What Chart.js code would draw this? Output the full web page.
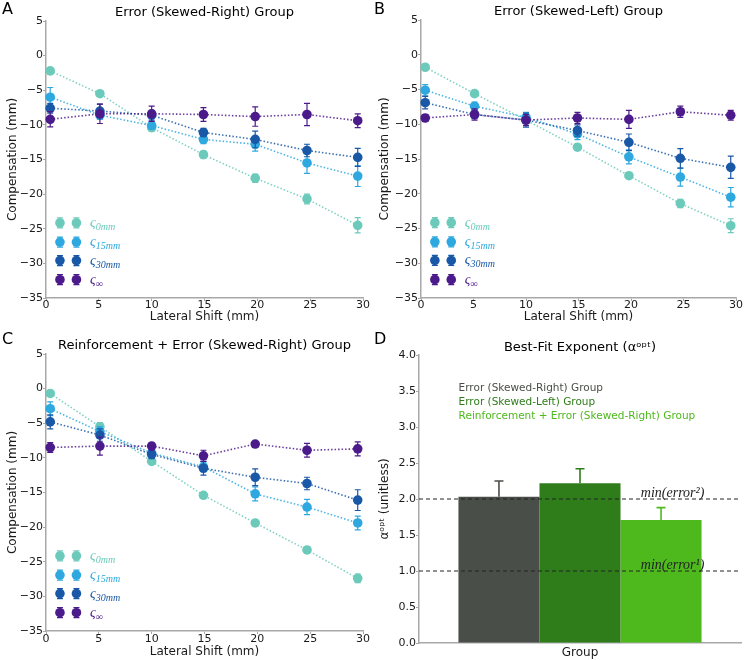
<!DOCTYPE html>
<html>
<head>
<meta charset="utf-8">
<script src="https://cdn.jsdelivr.net/npm/chart.js@4.4.0/dist/chart.umd.min.js"></script>
<style>
  html, body { margin: 0; padding: 0; background: #fff; }
  #fig { position: relative; width: 745px; height: 660px; }
  #fig canvas { position: absolute; }
</style>
</head>
<body>
<div id="fig">
  <canvas id="panelA" width="372" height="330" style="left:0;top:0"></canvas>
  <canvas id="panelB" width="373" height="330" style="left:372px;top:0"></canvas>
  <canvas id="panelC" width="372" height="330" style="left:0;top:330px"></canvas>
  <canvas id="panelD" width="373" height="330" style="left:372px;top:330px"></canvas>
</div>
<script>
/* lateral shifts (mm) and the four sigma conditions */
var shiftsMm = [0.4, 5.1, 10, 14.9, 19.8, 24.7, 29.5];
var sigmaSubs = ['0mm', '15mm', '30mm', '\u221e'];

/* A: Error (Skewed-Right) */
var rightC0   = [-2.2, -5.5, -10.4, -14.3, -17.7, -20.7, -24.5];
var rightC15  = [-6.0, -8.6, -10.1, -12.1, -12.8, -15.5, -17.4];
var rightC30  = [-7.6, -8.0, -8.6, -11.1, -12.1, -13.7, -14.7];
var rightCinf = [-9.2, -8.4, -8.4, -8.5, -8.8, -8.5, -9.4];
var rightE0   = [0.3, 0.2, 0.5, 0.5, 0.6, 0.7, 1.1];
var rightE15  = [1.4, 0.6, 0.5, 0.6, 1.0, 1.5, 1.5];
var rightE30  = [0.7, 1.0, 0.7, 0.6, 1.2, 0.9, 1.3];
var rightEinf = [1.1, 1.4, 1.1, 1.0, 1.4, 1.6, 1.0];

/* B: Error (Skewed-Left) */
var leftC0   = [-1.8, -5.6, -9.4, -13.3, -17.4, -21.4, -24.6];
var leftC15  = [-5.1, -7.4, -9.0, -11.4, -14.7, -17.6, -20.5];
var leftC30  = [-6.9, -8.6, -9.4, -10.9, -12.6, -14.9, -16.2];
var leftCinf = [-9.1, -8.6, -9.4, -9.1, -9.3, -8.2, -8.7];
var leftE0   = [0.2, 0.3, 0.5, 0.4, 0.3, 0.6, 1.0];
var leftE15  = [0.8, 0.6, 0.7, 0.8, 1.0, 1.3, 1.4];
var leftE30  = [0.9, 0.6, 1.0, 0.8, 1.2, 1.4, 1.6];
var leftEinf = [0.5, 0.8, 0.8, 0.8, 1.3, 0.8, 0.7];

/* C: Reinforcement + Error (Skewed-Right) */
var reinfC0   = [-0.7, -5.5, -10.5, -15.4, -19.4, -23.3, -27.4];
var reinfC15  = [-2.9, -6.2, -9.3, -11.3, -15.2, -17.1, -19.4];
var reinfC30  = [-4.8, -6.7, -9.5, -11.5, -12.8, -13.7, -16.1];
var reinfCinf = [-8.5, -8.3, -8.3, -9.7, -8.0, -8.9, -8.7];
var reinfE0   = [0.2, 0.6, 0.3, 0.2, 0.2, 0.3, 0.6];
var reinfE15  = [1.0, 0.7, 0.6, 0.7, 1.0, 1.1, 1.0];
var reinfE30  = [1.0, 0.9, 0.6, 1.0, 1.2, 0.9, 1.5];
var reinfEinf = [0.7, 1.3, 0.5, 0.8, 0.3, 1.0, 1.0];

/* D: best-fit exponent per group */
var groupNames = ['Error (Skewed-Right) Group', 'Error (Skewed-Left) Group', 'Reinforcement + Error (Skewed-Right) Group'];
var alphaOpt = [2.03, 2.22, 1.71];
var alphaErr = [0.22, 0.20, 0.17];
var refExponents = [2, 1];
var refSups = ['\u00b2', '\u00b9'];

var sigmaColors = ['#6ccabb', '#2ea8df', '#1958a7', '#4c1b8b'];
var sigmaLines = ['rgba(108,202,187,0.85)', 'rgba(46,168,223,0.85)', 'rgba(25,88,167,0.85)', 'rgba(76,27,139,0.85)'];
var barColors = ['#4a4e48', '#2f7d1a', '#4eb91d'];
var spineColor = '#a8a8a8';
var textColor = '#1a1a1a';

Chart.defaults.font.family = '"DejaVu Sans", sans-serif';
Chart.defaults.color = textColor;

function minus(v) { return String(v).replace('-', '\u2212'); }

/* panel letter + title above the plot */
var panelDecor = {
  id: 'panelDecor',
  afterDraw: function(chart, args, opts) {
    var c = chart.ctx, a = chart.chartArea;
    c.save();
    c.fillStyle = '#000';
    c.font = '16px "DejaVu Sans"';
    c.textAlign = 'left';
    c.textBaseline = 'alphabetic';
    c.fillText(opts.letter, 2, 14);
    c.font = '13px "DejaVu Sans"';
    c.textAlign = 'center';
    c.textBaseline = 'middle';
    c.fillText(opts.title, (a.left + a.right) / 2, a.top - opts.titleGap);
    c.restore();
  }
};

/* vertical error bars with caps, drawn under each dataset's markers */
var errorBars = {
  id: 'errorBars',
  beforeDatasetDraw: function(chart, args) {
    var ds = chart.data.datasets[args.index];
    if (!ds._err) return;
    var c = chart.ctx, ys = chart.scales.y;
    c.save();
    c.strokeStyle = ds.pointBackgroundColor;
    c.lineWidth = 1.2;
    args.meta.data.forEach(function(pt, i) {
      var v = ds.data[i].y, e = ds._err[i];
      var y1 = ys.getPixelForValue(v + e), y2 = ys.getPixelForValue(v - e);
      c.beginPath();
      c.moveTo(pt.x, y1); c.lineTo(pt.x, y2);
      c.moveTo(pt.x - 3, y1); c.lineTo(pt.x + 3, y1);
      c.moveTo(pt.x - 3, y2); c.lineTo(pt.x + 3, y2);
      c.stroke();
    });
    c.restore();
  }
};

/* matplotlib-like legend: two markers per entry + sigma label */
var sigmaLegend = {
  id: 'sigmaLegend',
  afterDatasetsDraw: function(chart) {
    var c = chart.ctx, a = chart.chartArea;
    var w = a.right - a.left, h = a.bottom - a.top;
    var rows = [0.729, 0.798, 0.865, 0.934];
    var mx = [0.044, 0.096];
    c.save();
    for (var k = 0; k < sigmaSubs.length; k++) {
      var y = a.top + h * rows[k];
      c.strokeStyle = sigmaColors[k];
      c.fillStyle = sigmaColors[k];
      c.lineWidth = 1.2;
      mx.forEach(function(f) {
        var x = a.left + w * f;
        c.beginPath();
        c.moveTo(x, y - 5); c.lineTo(x, y + 5);
        c.moveTo(x - 3, y - 5); c.lineTo(x + 3, y - 5);
        c.moveTo(x - 3, y + 5); c.lineTo(x + 3, y + 5);
        c.stroke();
        c.beginPath();
        c.arc(x, y, 4.8, 0, Math.PI * 2);
        c.fill();
      });
      var tx = a.left + w * 0.139;
      c.textAlign = 'left';
      c.textBaseline = 'alphabetic';
      c.font = 'italic 14px "Liberation Serif"';
      c.fillText('\u03c2', tx, y + 4);
      var sw = c.measureText('\u03c2').width;
      c.font = 'italic 10px "Liberation Serif"';
      c.fillText(sigmaSubs[k], tx + sw, y + 7);
    }
    c.restore();
  }
};

function buildShiftPanel(id, letter, title, series, errs, lay) {
  var datasets = series.map(function(vals, k) {
    return {
      label: sigmaSubs[k],
      data: vals.map(function(v, i) { return { x: shiftsMm[i], y: v }; }),
      _err: errs[k],
      showLine: true,
      borderColor: sigmaLines[k],
      borderWidth: 1.6,
      borderDash: [1.5, 2],
      pointRadius: 4.8,
      pointHoverRadius: 4.8,
      pointBackgroundColor: sigmaColors[k],
      pointBorderWidth: 0,
      clip: false,
      order: series.length - 1 - k
    };
  });

  return new Chart(document.getElementById(id), {
    type: 'scatter',
    data: { datasets: datasets },
    options: {
      responsive: false,
      animation: false,
      layout: { padding: { top: lay.top, right: lay.right, left: 0, bottom: 0 } },
      plugins: {
        legend: { display: false },
        tooltip: { enabled: false },
        panelDecor: { letter: letter, title: title, titleGap: 8 }
      },
      scales: {
        x: {
          type: 'linear',
          min: 0, max: 30,
          afterFit: function(s) { s.height = lay.xBox; },
          border: { display: true, color: spineColor, width: 1.5 },
          grid: { display: true, drawOnChartArea: false, drawTicks: true, tickLength: 3, color: spineColor },
          ticks: { stepSize: 5, padding: lay.tickPad, font: { size: 11 }, color: textColor, maxRotation: 0 },
          title: { display: true, text: 'Lateral Shift (mm)', font: { size: 12 }, color: textColor, padding: { top: 0, bottom: lay.xTitlePad } }
        },
        y: {
          min: -35, max: 5,
          afterFit: function(s) { s.width = lay.yBox; },
          border: { display: true, color: spineColor, width: 1.5 },
          grid: { display: true, drawOnChartArea: false, drawTicks: true, tickLength: 3, color: spineColor },
          ticks: { stepSize: 5, padding: 0, font: { size: 11 }, color: textColor, callback: function(v) { return minus(v); } },
          title: { display: true, text: 'Compensation (mm)', font: { size: 12 }, color: textColor, padding: { top: 6, bottom: 0 } }
        }
      }
    },
    plugins: [errorBars, sigmaLegend, panelDecor]
  });
}

buildShiftPanel('panelA', 'A', 'Error (Skewed-Right) Group',
  [rightC0, rightC15, rightC30, rightCinf], [rightE0, rightE15, rightE30, rightEinf],
  { top: 21, right: 9, yBox: 46, xBox: 32, xTitlePad: 6, tickPad: -2 });

buildShiftPanel('panelB', 'B', 'Error (Skewed-Left) Group',
  [leftC0, leftC15, leftC30, leftCinf], [leftE0, leftE15, leftE30, leftEinf],
  { top: 20, right: 9, yBox: 49, xBox: 32, xTitlePad: 6, tickPad: -2 });

buildShiftPanel('panelC', 'C', 'Reinforcement + Error (Skewed-Right) Group',
  [reinfC0, reinfC15, reinfC30, reinfCinf], [reinfE0, reinfE15, reinfE30, reinfEinf],
  { top: 24, right: 9, yBox: 46, xBox: 29, xTitlePad: 1, tickPad: -1 });

/* D: bars, upper error whiskers, reference exponents and coloured legend text */
var alphaExtras = {
  id: 'alphaExtras',
  afterDatasetsDraw: function(chart) {
    var c = chart.ctx, a = chart.chartArea, ys = chart.scales.y;
    var w = a.right - a.left, h = a.bottom - a.top;
    c.save();
    chart.data.datasets.forEach(function(ds, d) {
      var bar = chart.getDatasetMeta(d).data[0];
      var yTop = ys.getPixelForValue(ds.data[0] + ds._err[0]);
      c.strokeStyle = ds.backgroundColor;
      c.lineWidth = 1.6;
      c.beginPath();
      c.moveTo(bar.x, bar.y); c.lineTo(bar.x, yTop);
      c.moveTo(bar.x - 4.5, yTop); c.lineTo(bar.x + 4.5, yTop);
      c.stroke();
    });
    refExponents.forEach(function(v, k) {
      var y = ys.getPixelForValue(v);
      c.strokeStyle = '#222';
      c.lineWidth = 1;
      c.setLineDash([4, 3]);
      c.beginPath();
      c.moveTo(a.left, y); c.lineTo(a.right, y);
      c.stroke();
      c.setLineDash([]);
      c.fillStyle = '#222';
      c.font = 'italic 14px "Liberation Serif"';
      c.textAlign = 'left';
      c.textBaseline = 'alphabetic';
      c.fillText('min(error' + refSups[k] + ')', a.left + w * 0.689, y - 2);
    });
    var rows = [0.1155, 0.164, 0.214];
    c.font = '10.5px "DejaVu Sans"';
    c.textBaseline = 'middle';
    groupNames.forEach(function(name, k) {
      c.fillStyle = barColors[k];
      c.fillText(name, a.left + w * 0.123, a.top + h * rows[k]);
    });
    c.restore();
  }
};

new Chart(document.getElementById('panelD'), {
  type: 'bar',
  data: {
    labels: ['Group'],
    datasets: groupNames.map(function(name, k) {
      return {
        label: name,
        data: [alphaOpt[k]],
        _err: [alphaErr[k]],
        backgroundColor: barColors[k],
        borderWidth: 0,
        categoryPercentage: 0.755,
        barPercentage: 1.0
      };
    })
  },
  options: {
    responsive: false,
    animation: false,
    layout: { padding: { top: 25, right: 4, left: 0, bottom: 0 } },
    plugins: {
      legend: { display: false },
      tooltip: { enabled: false },
      panelDecor: { letter: 'D', title: 'Best-Fit Exponent (\u03b1\u1d52\u1d56\u1d57)', titleGap: 7 }
    },
    scales: {
      x: {
        afterFit: function(s) { s.height = 17; },
        border: { display: true, color: spineColor, width: 1.5 },
        grid: { display: false },
        ticks: { display: false },
        title: { display: true, text: 'Group', font: { size: 12 }, color: textColor, padding: 0 }
      },
      y: {
        min: 0, max: 4,
        afterFit: function(s) { s.width = 47; },
        border: { display: true, color: spineColor, width: 1.5 },
        grid: { display: true, drawOnChartArea: false, drawTicks: true, tickLength: 3, color: spineColor },
        ticks: { stepSize: 0.5, padding: 0, font: { size: 11 }, color: textColor, callback: function(v) { return v.toFixed(1); } },
        title: { display: true, text: '\u03b1\u1d52\u1d56\u1d57 (unitless)', font: { size: 12 }, color: textColor, padding: { top: 6, bottom: 0 } }
      }
    }
  },
  plugins: [alphaExtras, panelDecor]
});
</script>
</body>
</html>
